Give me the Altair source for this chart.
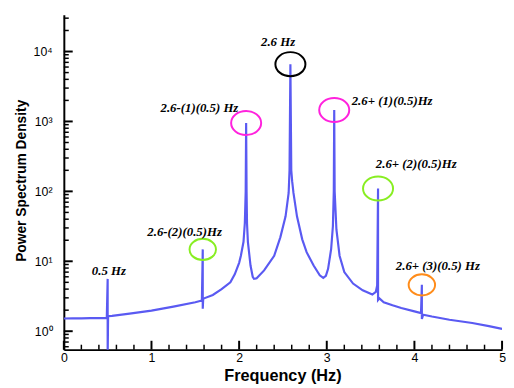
import altair as alt
import pandas as pd

# ---- spectrum curve ----
freq = [0.0, 0.1, 0.2, 0.3, 0.4, 0.49, 0.5, 0.5, 0.505, 0.55, 0.75, 1.0, 1.25, 1.5,
        1.575, 1.585, 1.585, 1.59, 1.6, 1.7, 1.8, 1.9, 1.95, 2.0, 2.02, 2.05, 2.065,
        2.075, 2.08, 2.085, 2.09, 2.1, 2.13, 2.155, 2.17, 2.2, 2.285, 2.4, 2.47, 2.53,
        2.565, 2.575, 2.585, 2.595, 2.605, 2.62, 2.66, 2.72, 2.77, 2.85, 2.92, 2.96,
        2.99, 3.015, 3.05, 3.07, 3.08, 3.085, 3.09, 3.11, 3.146, 3.2, 3.3, 3.41, 3.52,
        3.56, 3.575, 3.585, 3.585, 3.6, 3.65, 3.75, 3.85, 4.0, 4.075, 4.085, 4.085,
        4.1, 4.2, 4.4, 4.66, 4.85, 5.0]
psd = [1.52, 1.53, 1.53, 1.54, 1.54, 1.55, 5.6, 0.4, 1.64, 1.66, 1.78, 1.97, 2.25, 2.6,
       2.75, 14.8, 2.1, 2.9, 2.95, 3.3, 4.0, 5.0, 6.5, 9.5, 12, 19, 35,
       100, 950, 100, 35, 19, 8.7, 6.0, 5.6, 5.7, 7.4, 12, 22, 44,
       95, 200, 6600, 200, 140, 95, 44, 20.6, 13.5, 8.7, 6.3, 5.8,
       6.2, 7.8, 15, 32, 100, 1460, 100, 28.5, 12, 7, 4.8, 3.85, 3.35,
       3.66, 4.5, 110, 2.8, 2.95, 2.6, 2.35, 2.15, 1.92, 1.82, 4.6, 1.5,
       1.72, 1.62, 1.46, 1.31, 1.18, 1.08]

# ---- circled peaks ----
peak_freq = [1.585, 2.08, 2.585, 3.085, 3.585, 4.085]
peak_psd = [14.8, 950, 6600, 1460, 110, 4.6]
peak_order = ["n2", "n1", "n0", "n1", "n2", "n3"]
peak_big = [False, True, True, True, True, False]

# ---- annotations ----
label_text = ["0.5 Hz", "2.6-(2)(0.5)Hz", "2.6-(1)(0.5) Hz", "2.6 Hz",
              "2.6+ (1)(0.5)Hz", "2.6+ (2)(0.5)Hz", "2.6+ (3)(0.5) Hz"]
label_freq = [0.514, 1.378, 1.547, 2.444, 3.746, 4.021, 4.268]
label_psd = [7.3, 25.9, 1538, 13520, 1932, 242.6, 8.59]

# ---- axis ticks ----
x_major = [0, 1, 2, 3, 4, 5]
x_minor = [0.2, 0.4, 0.6, 0.8, 1.2, 1.4, 1.6, 1.8, 2.2, 2.4, 2.6, 2.8,
           3.2, 3.4, 3.6, 3.8, 4.2, 4.4, 4.6, 4.8]
y_major = [1, 10, 100, 1000, 10000]
y_minor = [0.6, 0.7, 0.8, 0.9, 2, 3, 4, 5, 6, 7, 8, 9, 20, 30, 40, 50, 60, 70, 80, 90,
           200, 300, 400, 500, 600, 700, 800, 900, 2000, 3000, 4000, 5000, 6000,
           7000, 8000, 9000, 20000, 30000]

W, H = 445, 340

curve = pd.DataFrame({"f": freq, "p": psd, "i": list(range(len(freq)))})
peaks = pd.DataFrame({"f": peak_freq, "p": peak_psd, "g": peak_order, "big": peak_big})
labels = pd.DataFrame({"f": label_freq, "p": label_psd, "t": label_text})

xs = alt.Scale(domain=[0, 5], nice=False, zero=False)
ys = alt.Scale(type="log", domain=[0.545, 33500], nice=False)

sup = "['\u2070','\u00b9','\u00b2','\u00b3','\u2074']"

line = alt.Chart(curve).mark_line(color="#5a5af2", strokeWidth=2.2, clip=True).encode(
    x=alt.X("f:Q", scale=xs, axis=alt.Axis(
        values=x_major, format="d", ticks=False, grid=False, labelFlush=False,
        labelPadding=2, labelFontSize=12.5, labelFont="Liberation Sans", labelColor="black",
        domainColor="black", domainWidth=2,
        title="Frequency (Hz)", titleFont="Liberation Sans", titleFontSize=16.5,
        titleFontWeight="bold", titleColor="black", titleX=222, titleY=31,
        titleBaseline="alphabetic", titleAlign="center")),
    y=alt.Y("p:Q", scale=ys, axis=alt.Axis(
        values=y_major, labelExpr="'10' + " + sup + "[round(log(datum.value)/LN10)]",
        ticks=False, grid=False, labelPadding=12, labelFontSize=12.5,
        labelFont="Liberation Sans", labelColor="black",
        domainColor="black", domainWidth=2,
        title="Power Spectrum Density", titleFont="Liberation Sans", titleFontSize=14,
        titleFontWeight="bold", titleColor="black", titleAngle=270, titleX=-38.7,
        titleY=168, titleBaseline="alphabetic", titleAlign="center")),
    order=alt.Order("i:Q"),
)

ell = "M-1,0A1,0.8,0,1,0,1,0A1,0.8,0,1,0,-1,0Z"
col = alt.Color("g:N", scale=alt.Scale(domain=["n0", "n1", "n2", "n3"],
                                        range=["#000000", "#ff22dd", "#88ee22", "#ff8c1a"]),
                legend=None)
circ_big = alt.Chart(peaks).transform_filter("datum.big").mark_point(
    shape=ell, size=930, filled=False, strokeWidth=2, opacity=1).encode(
    x=alt.X("f:Q", scale=xs, axis=None), y=alt.Y("p:Q", scale=ys, axis=None), color=col)
circ_small = alt.Chart(peaks).transform_filter("!datum.big").mark_point(
    shape=ell, size=720, filled=False, strokeWidth=2, opacity=1).encode(
    x=alt.X("f:Q", scale=xs, axis=None), y=alt.Y("p:Q", scale=ys, axis=None), color=col)

text = alt.Chart(labels).mark_text(
    font="Liberation Serif", fontStyle="italic", fontWeight="bold", fontSize=13,
    color="black", align="center", baseline="middle").encode(
    x=alt.X("f:Q", scale=xs, axis=None), y=alt.Y("p:Q", scale=ys, axis=None), text="t:N")

xmaj = alt.Chart(pd.DataFrame({"v": x_major})).mark_rule(color="black", strokeWidth=2).encode(
    x=alt.X("v:Q", scale=xs, axis=None), y=alt.value(H), y2=alt.value(H - 9))
xmin = alt.Chart(pd.DataFrame({"v": x_minor})).mark_rule(color="black", strokeWidth=1.5).encode(
    x=alt.X("v:Q", scale=xs, axis=None), y=alt.value(H), y2=alt.value(H - 5))
ymaj = alt.Chart(pd.DataFrame({"v": y_major})).mark_rule(color="black", strokeWidth=2).encode(
    y=alt.Y("v:Q", scale=ys, axis=None), x=alt.value(0), x2=alt.value(9))
ymin = alt.Chart(pd.DataFrame({"v": y_minor})).mark_rule(color="black", strokeWidth=1.5).encode(
    y=alt.Y("v:Q", scale=ys, axis=None), x=alt.value(0), x2=alt.value(5))

chart = alt.layer(line, xmaj, xmin, ymaj, ymin, circ_big, circ_small, text).resolve_axis(
    x="independent", y="independent"
).properties(
    width=W, height=H,
    autosize=alt.AutoSizeParams(type="none"),
    padding={"left": 56.7, "top": 4, "right": 4, "bottom": 34},
    background="white",
).configure_view(stroke=None)

chart.save("out.html", embed_options={"renderer": "svg", "actions": False})
